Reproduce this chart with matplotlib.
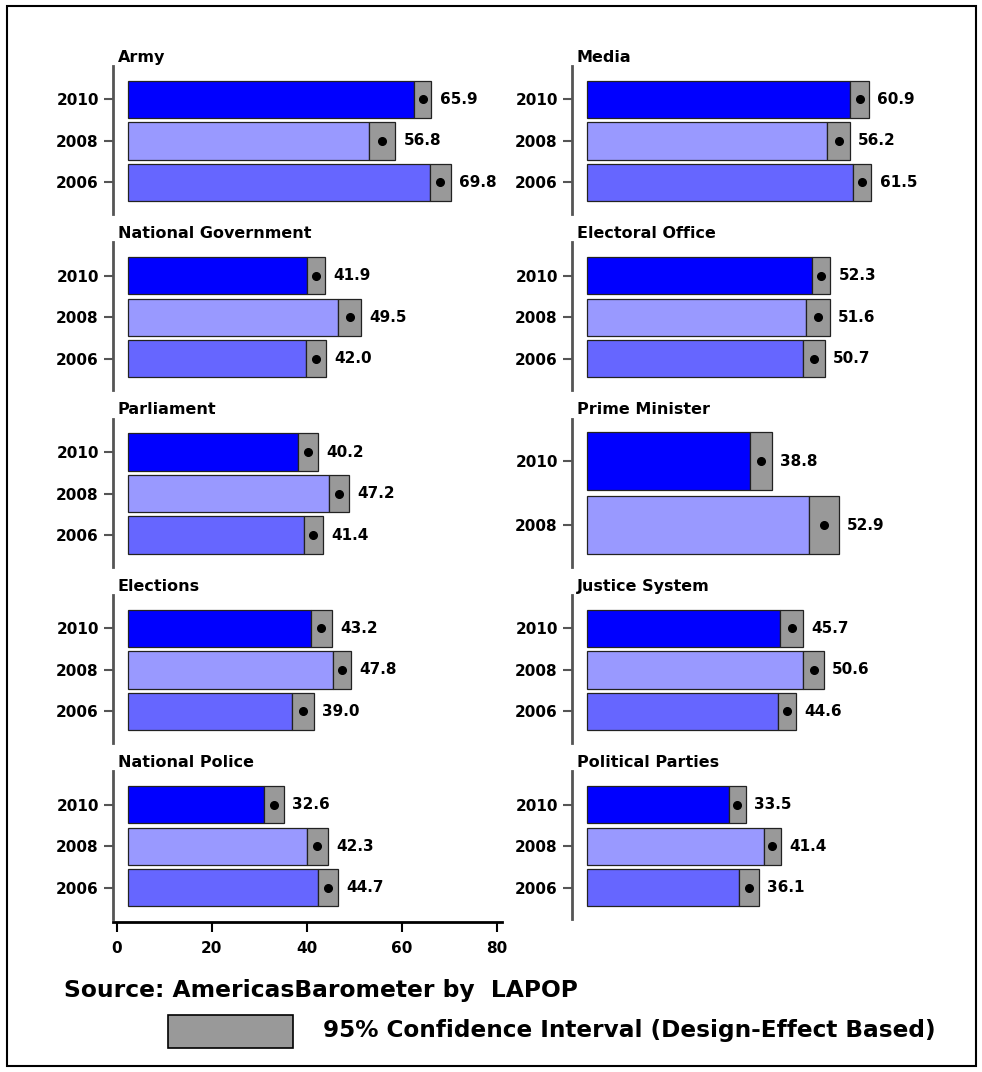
import matplotlib
matplotlib.use("Agg")
from matplotlib import pyplot as plt
from matplotlib.patches import Rectangle

plt.rcParams['font.family'] = ['DejaVu Sans']

# data: (title, years, means, ci half-widths)
left_titles = ["Army", "National Government", "Parliament", "Elections", "National Police"]
right_titles = ["Media", "Electoral Office", "Prime Minister", "Justice System", "Political Parties"]

years3 = ["2010", "2008", "2006"]
years2 = ["2010", "2008"]

army = [65.9, 56.8, 69.8]
army_ci = [1.9, 2.9, 2.3]
nat_gov = [41.9, 49.5, 42.0]
nat_gov_ci = [2.0, 2.6, 2.2]
parliament = [40.2, 47.2, 41.4]
parliament_ci = [2.3, 2.2, 2.2]
elections = [43.2, 47.8, 39.0]
elections_ci = [2.4, 2.1, 2.5]
police = [32.6, 42.3, 44.7]
police_ci = [2.2, 2.4, 2.3]

media = [60.9, 56.2, 61.5]
media_ci = [2.1, 2.5, 2.0]
electoral = [52.3, 51.6, 50.7]
electoral_ci = [2.0, 2.6, 2.4]
prime_min = [38.8, 52.9]
prime_min_ci = [2.5, 3.3]
justice = [45.7, 50.6, 44.6]
justice_ci = [2.5, 2.3, 2.0]
parties = [33.5, 41.4, 36.1]
parties_ci = [1.9, 1.9, 2.2]

left_vals = [army, nat_gov, parliament, elections, police]
left_cis = [army_ci, nat_gov_ci, parliament_ci, elections_ci, police_ci]
right_vals = [media, electoral, prime_min, justice, parties]
right_cis = [media_ci, electoral_ci, prime_min_ci, justice_ci, parties_ci]

year_colors = {"2010": "#0000ff", "2008": "#9999ff", "2006": "#6666ff"}
ci_color = "#999999"

W, H = 982, 1072
fig = plt.figure(figsize=(W / 100, H / 100), dpi=100)


def add_px_axes(x0, top, w, h):
    return fig.add_axes([x0 / W, 1 - (top + h) / H, w / W, h / H])


def draw_panel(ax, title, vals, cis):
    n = len(vals)
    years = years3 if n == 3 else years2
    y = list(range(n))
    lo = [v - c for v, c in zip(vals, cis)]
    ax.barh(y, lo, height=0.9, color=[year_colors[yr] for yr in years],
            edgecolor="#222222", linewidth=0.9)
    ax.barh(y, [2 * c for c in cis], left=lo, height=0.9, color=ci_color,
            edgecolor="#222222", linewidth=0.9)
    ax.plot(vals, y, "o", color="black", ms=5.5)
    for v, c, yy in zip(vals, cis, y):
        ax.annotate(f"{v:.1f}", xy=(v + c, yy), xytext=(6, 0),
                    textcoords="offset points", va="center", ha="left",
                    fontsize=11, fontweight="bold")
    ax.set_xlim(-3.5, 85)
    if n == 3:
        ax.set_ylim(2.76, -0.807)
    else:
        ax.set_ylim(1.646, -0.667)
    ax.set_yticks(y)
    ax.set_yticklabels(years, fontsize=11, fontweight="bold")
    ax.tick_params(axis="y", length=6.5, width=1.5, color="#555555", pad=3.5)
    ax.set_xticks([])
    for s in ["top", "right", "bottom"]:
        ax.spines[s].set_visible(False)
    ax.spines["left"].set_color("#555555")
    ax.spines["left"].set_linewidth(2)
    ax.patch.set_alpha(0)
    ax.annotate(title, xy=(0, 1), xycoords="axes fraction", xytext=(3.5, 3),
                textcoords="offset points", va="baseline", ha="left",
                fontsize=11.5, fontweight="bold")


for k in range(5):
    top = 66 + 176.3 * k
    ax_l = add_px_axes(112.7, top, 395.6, 148)
    draw_panel(ax_l, left_titles[k], left_vals[k], left_cis[k])
    ax_r = add_px_axes(571.7, top, 395.6, 148)
    draw_panel(ax_r, right_titles[k], right_vals[k], right_cis[k])

# shared x scale under the left column
ax_x = add_px_axes(112.7, 920.7, 389.3, 1)
ax_x.set_xlim(-0.84, 81.05)
ax_x.set_xticks([0, 20, 40, 60, 80])
ax_x.set_xticklabels(["0", "20", "40", "60", "80"], fontsize=11, fontweight="bold")
ax_x.tick_params(axis="x", length=7.2, width=1.5, pad=7)
ax_x.set_yticks([])
for s in ["top", "right", "left"]:
    ax_x.spines[s].set_visible(False)
ax_x.spines["bottom"].set_linewidth(2)
ax_x.patch.set_alpha(0)

fig.text(64 / W, 1 - 990 / H, "Source: AmericasBarometer by  LAPOP",
         fontsize=16.8, fontweight="bold", va="center", ha="left")
fig.patches.append(Rectangle((168 / W, 1 - 1048 / H), 125 / W, 33 / H,
                             facecolor=ci_color, edgecolor="black", linewidth=1.2,
                             transform=fig.transFigure, figure=fig))
fig.text(323 / W, 1 - 1031 / H, "95% Confidence Interval (Design-Effect Based)",
         fontsize=16.7, fontweight="bold", va="center", ha="left")

fig.patches.append(Rectangle((7 / W, 1 - 1066 / H), 969 / W, 1060 / H,
                             fill=False, edgecolor="black", linewidth=1.5,
                             transform=fig.transFigure, figure=fig))

fig.savefig("out.png", dpi=100)
